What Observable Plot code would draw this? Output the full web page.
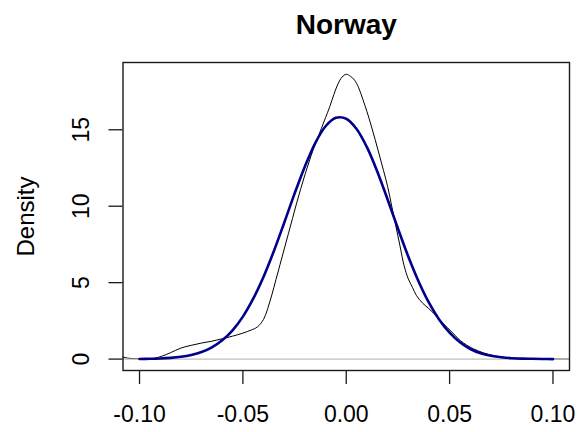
<!DOCTYPE html>
<html>
<head>
<meta charset="utf-8">
<script src="https://cdn.jsdelivr.net/npm/d3@7"></script>
<script src="https://cdn.jsdelivr.net/npm/@observablehq/plot@0.6"></script>
<style>
  html, body { margin: 0; padding: 0; background: #fff; }
</style>
</head>
<body>
<div id="chart"></div>
<script>
// Kernel density estimate of returns
const kdeX = [-0.112, -0.108, -0.106, -0.103, -0.098, -0.093, -0.089, -0.085, -0.080, -0.075,
              -0.070, -0.065, -0.060, -0.055, -0.050, -0.046, -0.043, -0.040, -0.038, -0.036,
              -0.034, -0.032, -0.030, -0.028, -0.026, -0.024, -0.022, -0.020, -0.018, -0.016,
              -0.014, -0.012, -0.010, -0.008, -0.006, -0.004, -0.002, 0.000, 0.002, 0.004,
              0.006, 0.008, 0.010, 0.012, 0.014, 0.016, 0.018, 0.020, 0.022, 0.024,
              0.026, 0.028, 0.030, 0.032, 0.034, 0.037, 0.040, 0.043, 0.046, 0.049,
              0.052, 0.0553, 0.0617, 0.0714, 0.0827, 0.095, 0.108, 0.112];
const kdeY = [0.14, 0.13, 0.07, 0.03, 0.02, 0.05, 0.2, 0.42, 0.72, 0.9,
              1.05, 1.17, 1.33, 1.5, 1.7, 1.9, 2.1, 2.6, 3.3, 4.2,
              5.2, 6.2, 7.2, 8.2, 9.2, 10.2, 11.15, 12.05, 12.9, 13.7,
              14.4, 15.1, 15.8, 16.5, 17.3, 18.0, 18.45, 18.63, 18.5, 18.25,
              17.75, 17.0, 16.2, 15.3, 14.35, 13.35, 12.35, 11.3, 10.0, 8.7,
              7.4, 6.1, 5.25, 4.7, 4.15, 3.65, 3.3, 2.9, 2.45, 2.05,
              1.65, 1.2, 0.66, 0.22, 0.05, 0.01, 0.0, 0.0];

// Fitted normal density
const fitX = [-0.100, -0.095, -0.090, -0.085, -0.080, -0.075, -0.070, -0.065, -0.060, -0.055,
              -0.050, -0.045, -0.040, -0.035, -0.030, -0.025, -0.020, -0.015, -0.010, -0.005,
              0.000, 0.005, 0.010, 0.015, 0.020, 0.025, 0.030, 0.035, 0.040, 0.045,
              0.050, 0.055, 0.060, 0.065, 0.070, 0.075, 0.080, 0.085, 0.090, 0.095, 0.100];
const fitY = [0.01, 0.02, 0.04, 0.08, 0.15, 0.27, 0.46, 0.77, 1.23, 1.88,
              2.78, 3.95, 5.39, 7.07, 8.92, 10.82, 12.60, 14.13, 15.23, 15.78,
              15.72, 15.05, 13.86, 12.27, 10.44, 8.54, 6.71, 5.08, 3.69, 2.58,
              1.73, 1.10, 0.66, 0.38, 0.22, 0.12, 0.06, 0.03, 0.02, 0.01, 0.00];

const xTicks = [-0.10, -0.05, 0.00, 0.05, 0.10];
const yTicks = [0, 5, 10, 15];
const title = "Norway";
const yLabel = "Density";

const kde = kdeX.map((x, i) => ({x, y: kdeY[i]}));
const fit = fitX.map((x, i) => ({x, y: fitY[i]}));

const chart = Plot.plot({
  width: 583,
  height: 432,
  marginLeft: 122.5,
  marginRight: 14,
  marginTop: 62,
  marginBottom: 62,
  style: {fontFamily: "'Liberation Sans', Arial, sans-serif", fontSize: "23px", color: "#000", background: "#fff"},
  x: {domain: [-0.108, 0.108]},
  y: {domain: [-0.746, 19.4]},
  marks: [
    Plot.line(kde, {x: "x", y: "y", stroke: "#000", strokeWidth: 1, curve: "catmull-rom", clip: true}),
    Plot.ruleY([0], {stroke: "#bebebe", strokeWidth: 1.2}),
    Plot.line(fit, {x: "x", y: "y", stroke: "#00008b", strokeWidth: 2.6, curve: "catmull-rom", clip: true}),
    Plot.frame({stroke: "#1a1a1a", strokeWidth: 1.4}),
    Plot.axisX({ticks: xTicks, tickFormat: d => d.toFixed(2), tickSize: 14, tickPadding: 21,
                stroke: "#1a1a1a", strokeWidth: 1.3, label: null}),
    Plot.axisY({ticks: yTicks, tickFormat: d => String(d), tickSize: 14, tickPadding: 20,
                tickRotate: -90, stroke: "#1a1a1a", strokeWidth: 1.3, label: null}),
    Plot.text([yLabel], {frameAnchor: "left", dx: -89.5, rotate: -90, textAnchor: "middle",
                         lineAnchor: "bottom", fontSize: 24}),
    Plot.text([title], {frameAnchor: "top", dy: -28.5, textAnchor: "middle", lineAnchor: "bottom",
                        fontSize: 28, fontWeight: "bold"})
  ]
});
document.getElementById("chart").appendChild(chart);
</script>
</body>
</html>
